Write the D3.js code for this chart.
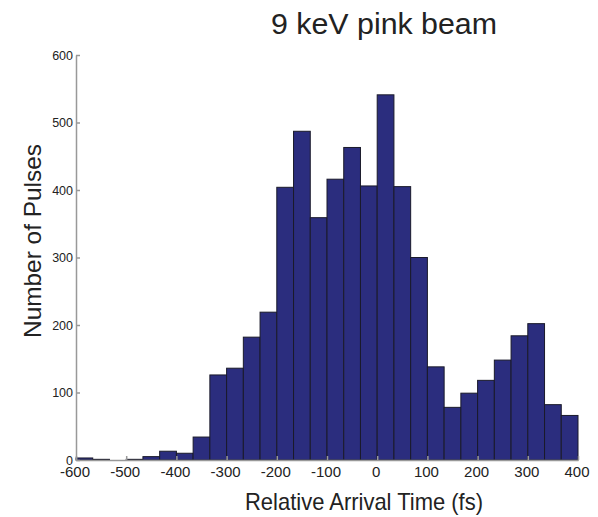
<!DOCTYPE html>
<meta charset="utf-8">
<style>
    body { margin: 0; background: #fff; }
    text { font-family: "Liberation Sans", Arial, sans-serif; fill: #222; }
    .axis path, .axis line { stroke: #999; stroke-width: 1.5; }
</style>
<body>
<script src="https://d3js.org/d3.v7.min.js"></script>
<script>

    var width = 598,
        height = 517;

    // histogram bins: left edge of each 33.3 fs bin and the counts in it
    var binStart = -600,
        binWidth = 1000 / 30;
    var counts = [3, 1, 0, 1, 5, 13, 10, 34, 126, 136, 182, 219, 404, 487, 359,
                  416, 463, 406, 541, 405, 300, 138, 78, 99, 118, 148, 184, 202, 82, 66];

    var xTicks = [-600, -500, -400, -300, -200, -100, 0, 100, 200, 300, 400],
        yTicks = [0, 100, 200, 300, 400, 500, 600];

    var margin = {left: 76, right: 20, top: 55, bottom: 57};

    var x = d3.scaleLinear()
        .domain([-600, 400])
        .range([margin.left, width - margin.right]);

    var y = d3.scaleLinear()
        .domain([0, 600])
        .range([height - margin.bottom, margin.top]);

    var svg = d3.select("body").append("svg")
        .attr("width", width)
        .attr("height", height);

    svg.selectAll("rect.bar")
        .data(counts)
        .enter().append("rect")
        .attr("class", "bar")
        .attr("x", function(d, i) { return x(binStart + i * binWidth); })
        .attr("width", function(d, i) { return x(binStart + (i + 1) * binWidth) - x(binStart + i * binWidth); })
        .attr("y", function(d) { return y(d); })
        .attr("height", function(d) { return y(0) - y(d); })
        .style("fill", "#2b2d7e")
        .style("stroke", function(d) { return d > 0 ? "#1a1a2a" : "none"; })
        .style("stroke-width", 1);

    // plain hyphen for negatives, like the original
    var fmt = function(d) { return String(d); };

    var xAxis = svg.append("g")
        .attr("class", "axis")
        .attr("transform", "translate(0," + y(0) + ")")
        .call(d3.axisBottom(x).tickValues(xTicks).tickFormat(fmt)
            .tickSizeInner(-4).tickSizeOuter(0).tickPadding(6));
    xAxis.selectAll("text").style("font-size", "15px").attr("dx", "-0.1em");

    var yAxis = svg.append("g")
        .attr("class", "axis")
        .attr("transform", "translate(" + x(-600) + ",0)")
        .call(d3.axisLeft(y).tickValues(yTicks).tickFormat(fmt)
            .tickSizeInner(-4).tickSizeOuter(0).tickPadding(3));
    yAxis.selectAll("text").style("font-size", "12.5px");

    svg.append("text")
        .attr("x", 384)
        .attr("y", 34)
        .attr("text-anchor", "middle")
        .attr("textLength", 226)
        .attr("lengthAdjust", "spacingAndGlyphs")
        .style("font-size", "30px")
        .text("9 keV pink beam");

    svg.append("text")
        .attr("x", 364)
        .attr("y", 510)
        .attr("text-anchor", "middle")
        .attr("textLength", 238)
        .attr("lengthAdjust", "spacingAndGlyphs")
        .style("font-size", "24px")
        .text("Relative Arrival Time (fs)");

    svg.append("text")
        .attr("transform", "translate(41,241) rotate(-90)")
        .attr("text-anchor", "middle")
        .attr("textLength", 194)
        .attr("lengthAdjust", "spacingAndGlyphs")
        .style("font-size", "24px")
        .text("Number of Pulses");

</script>
